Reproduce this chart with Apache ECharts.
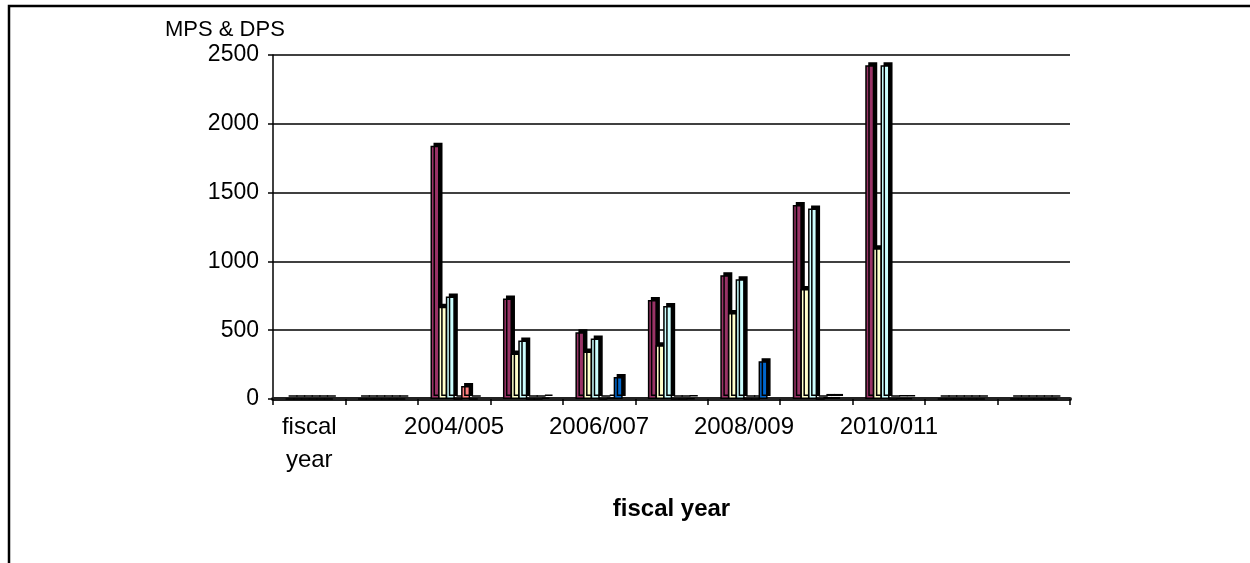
<!DOCTYPE html>
<html>
<head>
<meta charset="utf-8">
<script src="https://cdn.jsdelivr.net/npm/echarts@6/dist/echarts.min.js"></script>
<style>
html,body{margin:0;padding:0;background:#fff;}
#chart{width:1250px;height:563px;}
</style>
</head>
<body>
<div id="chart"></div>
<script>
var categories = ['fiscal year', '2003/004', '2004/005', '2005/006', '2006/007', '2007/008', '2008/009', '2009/010', '2010/011', '', ''];
var yTicks = [0, 500, 1000, 1500, 2000, 2500];
var seriesNames = ['MPS', 'DPS', 'Total', 'Series 4', 'Series 5', 'Series 6'];
var seriesColors = ['#993366', '#FFFFCC', '#CCFFFF', '#660066', '#FF8080', '#0066CC'];
var purpleVals = [0, 0, 1840, 730, 485, 720, 900, 1410, 2425, 0, 0];
var yellowVals = [0, 0, 670, 330, 345, 390, 625, 800, 1095, 0, 0];
var cyanVals   = [0, 0, 745, 425, 440, 675, 870, 1385, 2425, 0, 0];
var darkVals   = [0, 0, 0, 0, 0, 0, 0, 0, 0, 0, 0];
var salmonVals = [0, 0, 95, 0, 10, 0, 0, 15, 5, 0, 0];
var blueVals   = [0, 0, 0, 10, 160, 5, 275, 15, 5, 0, 0];

var allVals = [purpleVals, yellowVals, cyanVals, darkVals, salmonVals, blueVals];

var FONT = '"Liberation Sans", Arial, sans-serif';

var chart = echarts.init(document.getElementById('chart'), null, {renderer: 'canvas'});

var series = allVals.map(function (vals, i) {
  return {
    name: seriesNames[i],
    type: 'bar',
    data: vals,
    barWidth: 9,
    barGap: '-15%',
    itemStyle: {
      color: seriesColors[i],
      borderColor: '#000',
      borderWidth: 1.5,
      shadowColor: '#000',
      shadowBlur: 0,
      shadowOffsetX: 3,
      shadowOffsetY: -3
    },
    emphasis: {disabled: true},
    animation: false
  };
});

chart.setOption({
  animation: false,
  backgroundColor: '#fff',
  grid: {left: 273, right: 180, top: 55, bottom: 164},
  xAxis: {
    type: 'category',
    data: categories,
    name: 'fiscal year',
    nameLocation: 'middle',
    nameGap: 98,
    nameTextStyle: {fontFamily: FONT, fontSize: 24, fontWeight: 'bold', color: '#000'},
    axisLine: {lineStyle: {color: '#222', width: 4}},
    axisTick: {show: true, length: 6, interval: 0, lineStyle: {color: '#000', width: 1.5}},
    axisLabel: {
      interval: 1,
      margin: 12,
      fontFamily: FONT,
      fontSize: 24,
      lineHeight: 33,
      color: '#000',
      formatter: function (v) { return v.replace(' ', '\n'); }
    },
    splitLine: {show: false}
  },
  yAxis: {
    type: 'value',
    min: yTicks[0],
    max: yTicks[yTicks.length - 1],
    interval: 500,
    axisLine: {show: true, lineStyle: {color: '#000', width: 1.5}},
    axisTick: {show: true, length: 5, lineStyle: {color: '#000', width: 1.5}},
    axisLabel: {
      margin: 14, fontFamily: FONT, fontSize: 23, color: '#000',
      formatter: function (v) { return String(v); }
    },
    splitLine: {show: true, lineStyle: {color: '#000', width: 1.5}}
  },
  graphic: [
    {
      type: 'text',
      left: 165,
      top: 19,
      style: {text: 'MPS & DPS', font: '22px ' + FONT, fill: '#000'}
    },
    {
      type: 'polyline',
      shape: {points: [[9, 563], [9, 6], [1250, 6]]},
      style: {stroke: '#000', lineWidth: 2.5, fill: null}
    }
  ],
  series: series
});
</script>
</body>
</html>
